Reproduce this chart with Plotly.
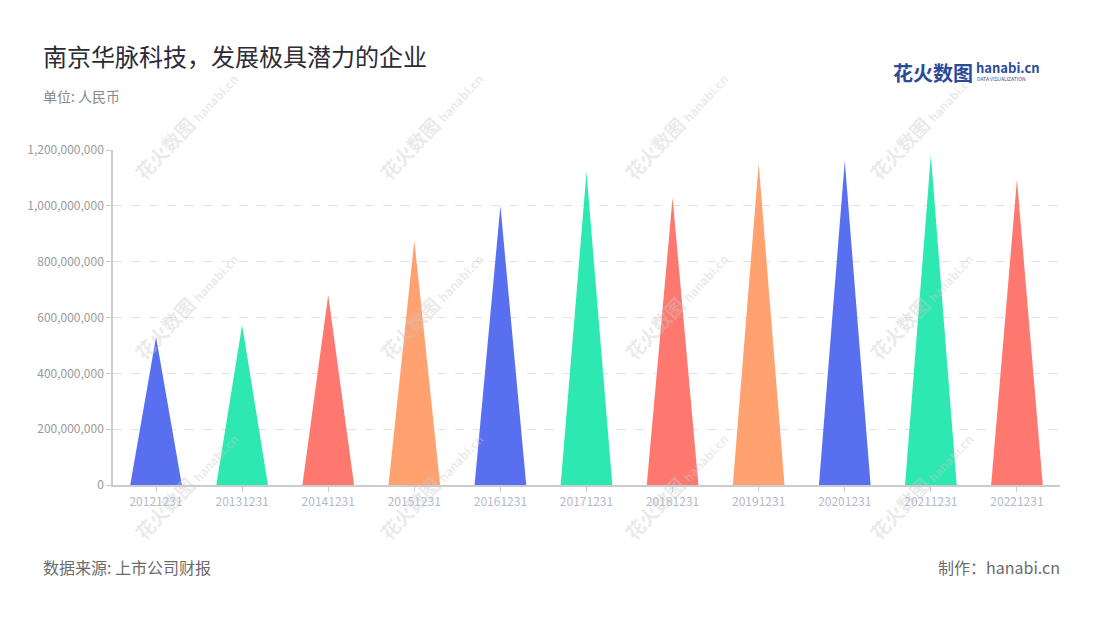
import plotly.graph_objects as go

# ---- data ----
dates = ["20121231", "20131231", "20141231", "20151231", "20161231", "20171231",
         "20181231", "20191231", "20201231", "20211231", "20221231"]
revenue = [530e6, 573e6, 681e6, 876e6, 1000e6, 1121e6,
           1030e6, 1152e6, 1161e6, 1182e6, 1094e6]
palette = ["#5870F0", "#2EE8B2", "#FF7870", "#FFA270"]
y_ticks = [0, 200e6, 400e6, 600e6, 800e6, 1000e6, 1200e6]

# page offset (body margin) and figure size
OX, OY = 8, 8
W, H = 1092, 612
ML, MR, MT, MB = 105, 40, 142, 135
FONT = "Noto Sans CJK SC, Noto Sans, sans-serif"

fig = go.Figure()
half = 0.3
for i, (d, v) in enumerate(zip(dates, revenue)):
    fig.add_trace(go.Scatter(
        x=[i - half, i, i + half, i - half],
        y=[0, v, 0, 0],
        mode="lines", fill="toself",
        fillcolor=palette[i % len(palette)],
        line=dict(width=0, color=palette[i % len(palette)]),
        hoverinfo="skip", showlegend=False,
    ))

def px_to_paper(x, y):
    x -= OX
    y -= OY
    return (x - ML) / (W - ML - MR), 1 - (y - MT) / (H - MT - MB)

annotations = []
# watermarks
for cy in [125, 305, 485]:
    for cx in [185, 430, 675, 920]:
        px, py = px_to_paper(cx, cy)
        annotations.append(dict(
            x=px, y=py, xref="paper", yref="paper", showarrow=False,
            text="<b>花火数图</b> <span style='font-size:12px'><b>hanabi.cn</b></span>",
            textangle=-47,
            font=dict(family=FONT, size=19, color="rgba(200,200,200,0.38)"),
            xanchor="center", yanchor="middle",
        ))

def txt(x, y, s, size, color, anchor="left", bold=False):
    px, py = px_to_paper(x, y)
    annotations.append(dict(
        x=px, y=py, xref="paper", yref="paper", showarrow=False,
        text=(f"<b>{s}</b>" if bold else s), xanchor=anchor, yanchor="middle",
        font=dict(family=FONT, size=size, color=color),
    ))

txt(41, 55, "南京华脉科技，发展极具潜力的企业", 24, "#2b2b36")
txt(41, 96, "单位: 人民币", 14, "#8a8a8a")
txt(41, 567, "数据来源: 上市公司财报", 16, "#6b6b6b")
txt(1062, 567, "制作：hanabi.cn", 16, "#6b6b6b", anchor="right")
# logo
txt(891, 72, "花火数图", 20, "#2C4A9A", bold=True)
txt(974, 68, "hanabi.cn", 13, "#2C4A9A", bold=True)
txt(975, 79, "DATA VISUALIZATION", 5, "#2C4A9A")

fig.update_layout(
    width=W, height=H,
    margin=dict(l=ML, r=MR, t=MT, b=MB),
    paper_bgcolor="white", plot_bgcolor="white",
    font=dict(family=FONT),
    annotations=annotations,
    xaxis=dict(
        range=[-0.5, len(dates) - 0.5],
        tickmode="array", tickvals=list(range(len(dates))), ticktext=dates,
        showgrid=False, zeroline=False,
        showline=True, linecolor="#cccccc", linewidth=1.5,
        ticks="outside", ticklen=5, tickcolor="#cccccc",
        tickfont=dict(size=12, color="#b3b9c8", family=FONT),
        fixedrange=True,
    ),
    yaxis=dict(
        range=[0, 1200e6],
        tickmode="array", tickvals=y_ticks,
        ticktext=[f"{int(v):,}" for v in y_ticks],
        showgrid=True, gridcolor="#e3e3e3", griddash="dash", gridwidth=1,
        zeroline=False,
        showline=True, linecolor="#cccccc", linewidth=1.5,
        ticks="outside", ticklen=5, tickcolor="#cccccc",
        tickfont=dict(size=12, color="#9a9a9a", family=FONT),
        fixedrange=True,
    ),
)

fig.write_html("out.html")
